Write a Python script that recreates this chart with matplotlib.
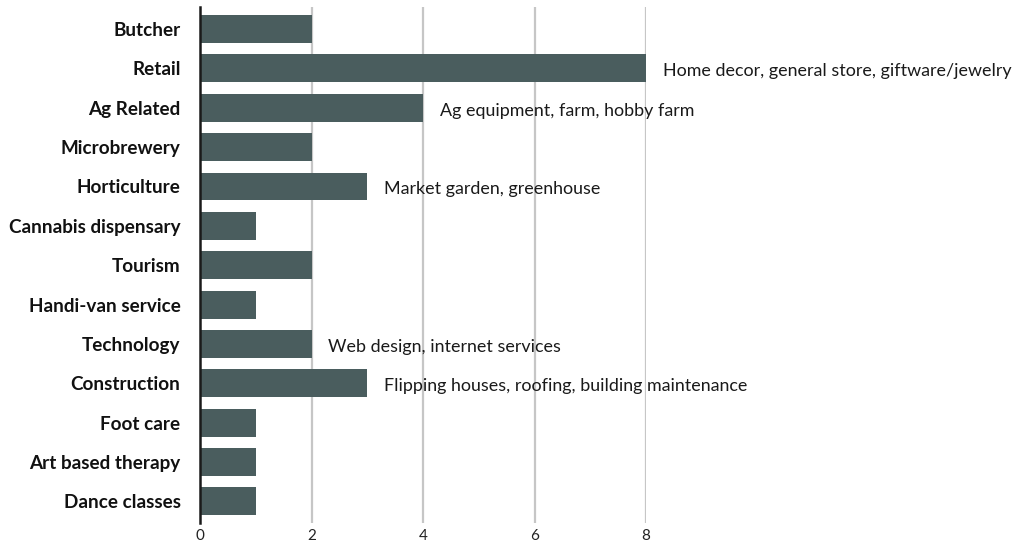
import matplotlib
matplotlib.use("Agg")
import matplotlib.pyplot as plt

categories = [
    "Butcher", "Retail", "Ag Related", "Microbrewery", "Horticulture",
    "Cannabis dispensary", "Tourism", "Handi-van service", "Technology",
    "Construction", "Foot care", "Art based therapy", "Dance classes",
]
counts = [2, 8, 4, 2, 3, 1, 2, 1, 2, 3, 1, 1, 1]
notes = {
    "Retail": "Home decor, general store, giftware/jewelry",
    "Ag Related": "Ag equipment, farm, hobby farm",
    "Horticulture": "Market garden, greenhouse",
    "Technology": "Web design, internet services",
    "Construction": "Flipping houses, roofing, building maintenance",
}
xticks = [0, 2, 4, 6, 8]

BAR = "#4a5d5e"
plt.rcParams["font.family"] = ["Lato", "DejaVu Sans"]

fig = plt.figure(figsize=(10.14, 5.45), dpi=100)
ax = fig.add_axes([200 / 1014, 22 / 545, 446 / 1014, 516 / 545])

y = list(range(len(categories)))
ax.barh(y, counts, height=0.71, color=BAR, zorder=3)

# free-text notes sit just past the end of their bar
for yi, (cat, val) in enumerate(zip(categories, counts)):
    if cat in notes:
        ax.annotate(notes[cat], xy=(val, yi), xytext=(17, -3),
                    textcoords="offset pixels",
                    va="center", ha="left", fontsize=12.9, color="#1a1a1a",
                    annotation_clip=False)

ax.set_xlim(0, 8)
ax.set_ylim(len(categories) - 0.45, -0.56)
ax.set_xticks(xticks)
ax.set_xticklabels([str(t) for t in xticks], fontsize=11, color="#222222")
ax.set_yticks(y)
ax.set_yticklabels(categories, fontsize=13.6, fontweight="bold", color="#111111")
ax.tick_params(axis="both", length=0)
ax.tick_params(axis="y", pad=14)
ax.tick_params(axis="x", pad=4)

for t in xticks[1:]:
    ax.axvline(t, color="#c6c6c6", lw=1.6, zorder=1)

for side in ("top", "right", "bottom"):
    ax.spines[side].set_visible(False)
ax.spines["left"].set_color("#1a1a1a")
ax.spines["left"].set_linewidth(1.8)
ax.spines["left"].set_zorder(4)

fig.savefig("out.png", dpi=100)
